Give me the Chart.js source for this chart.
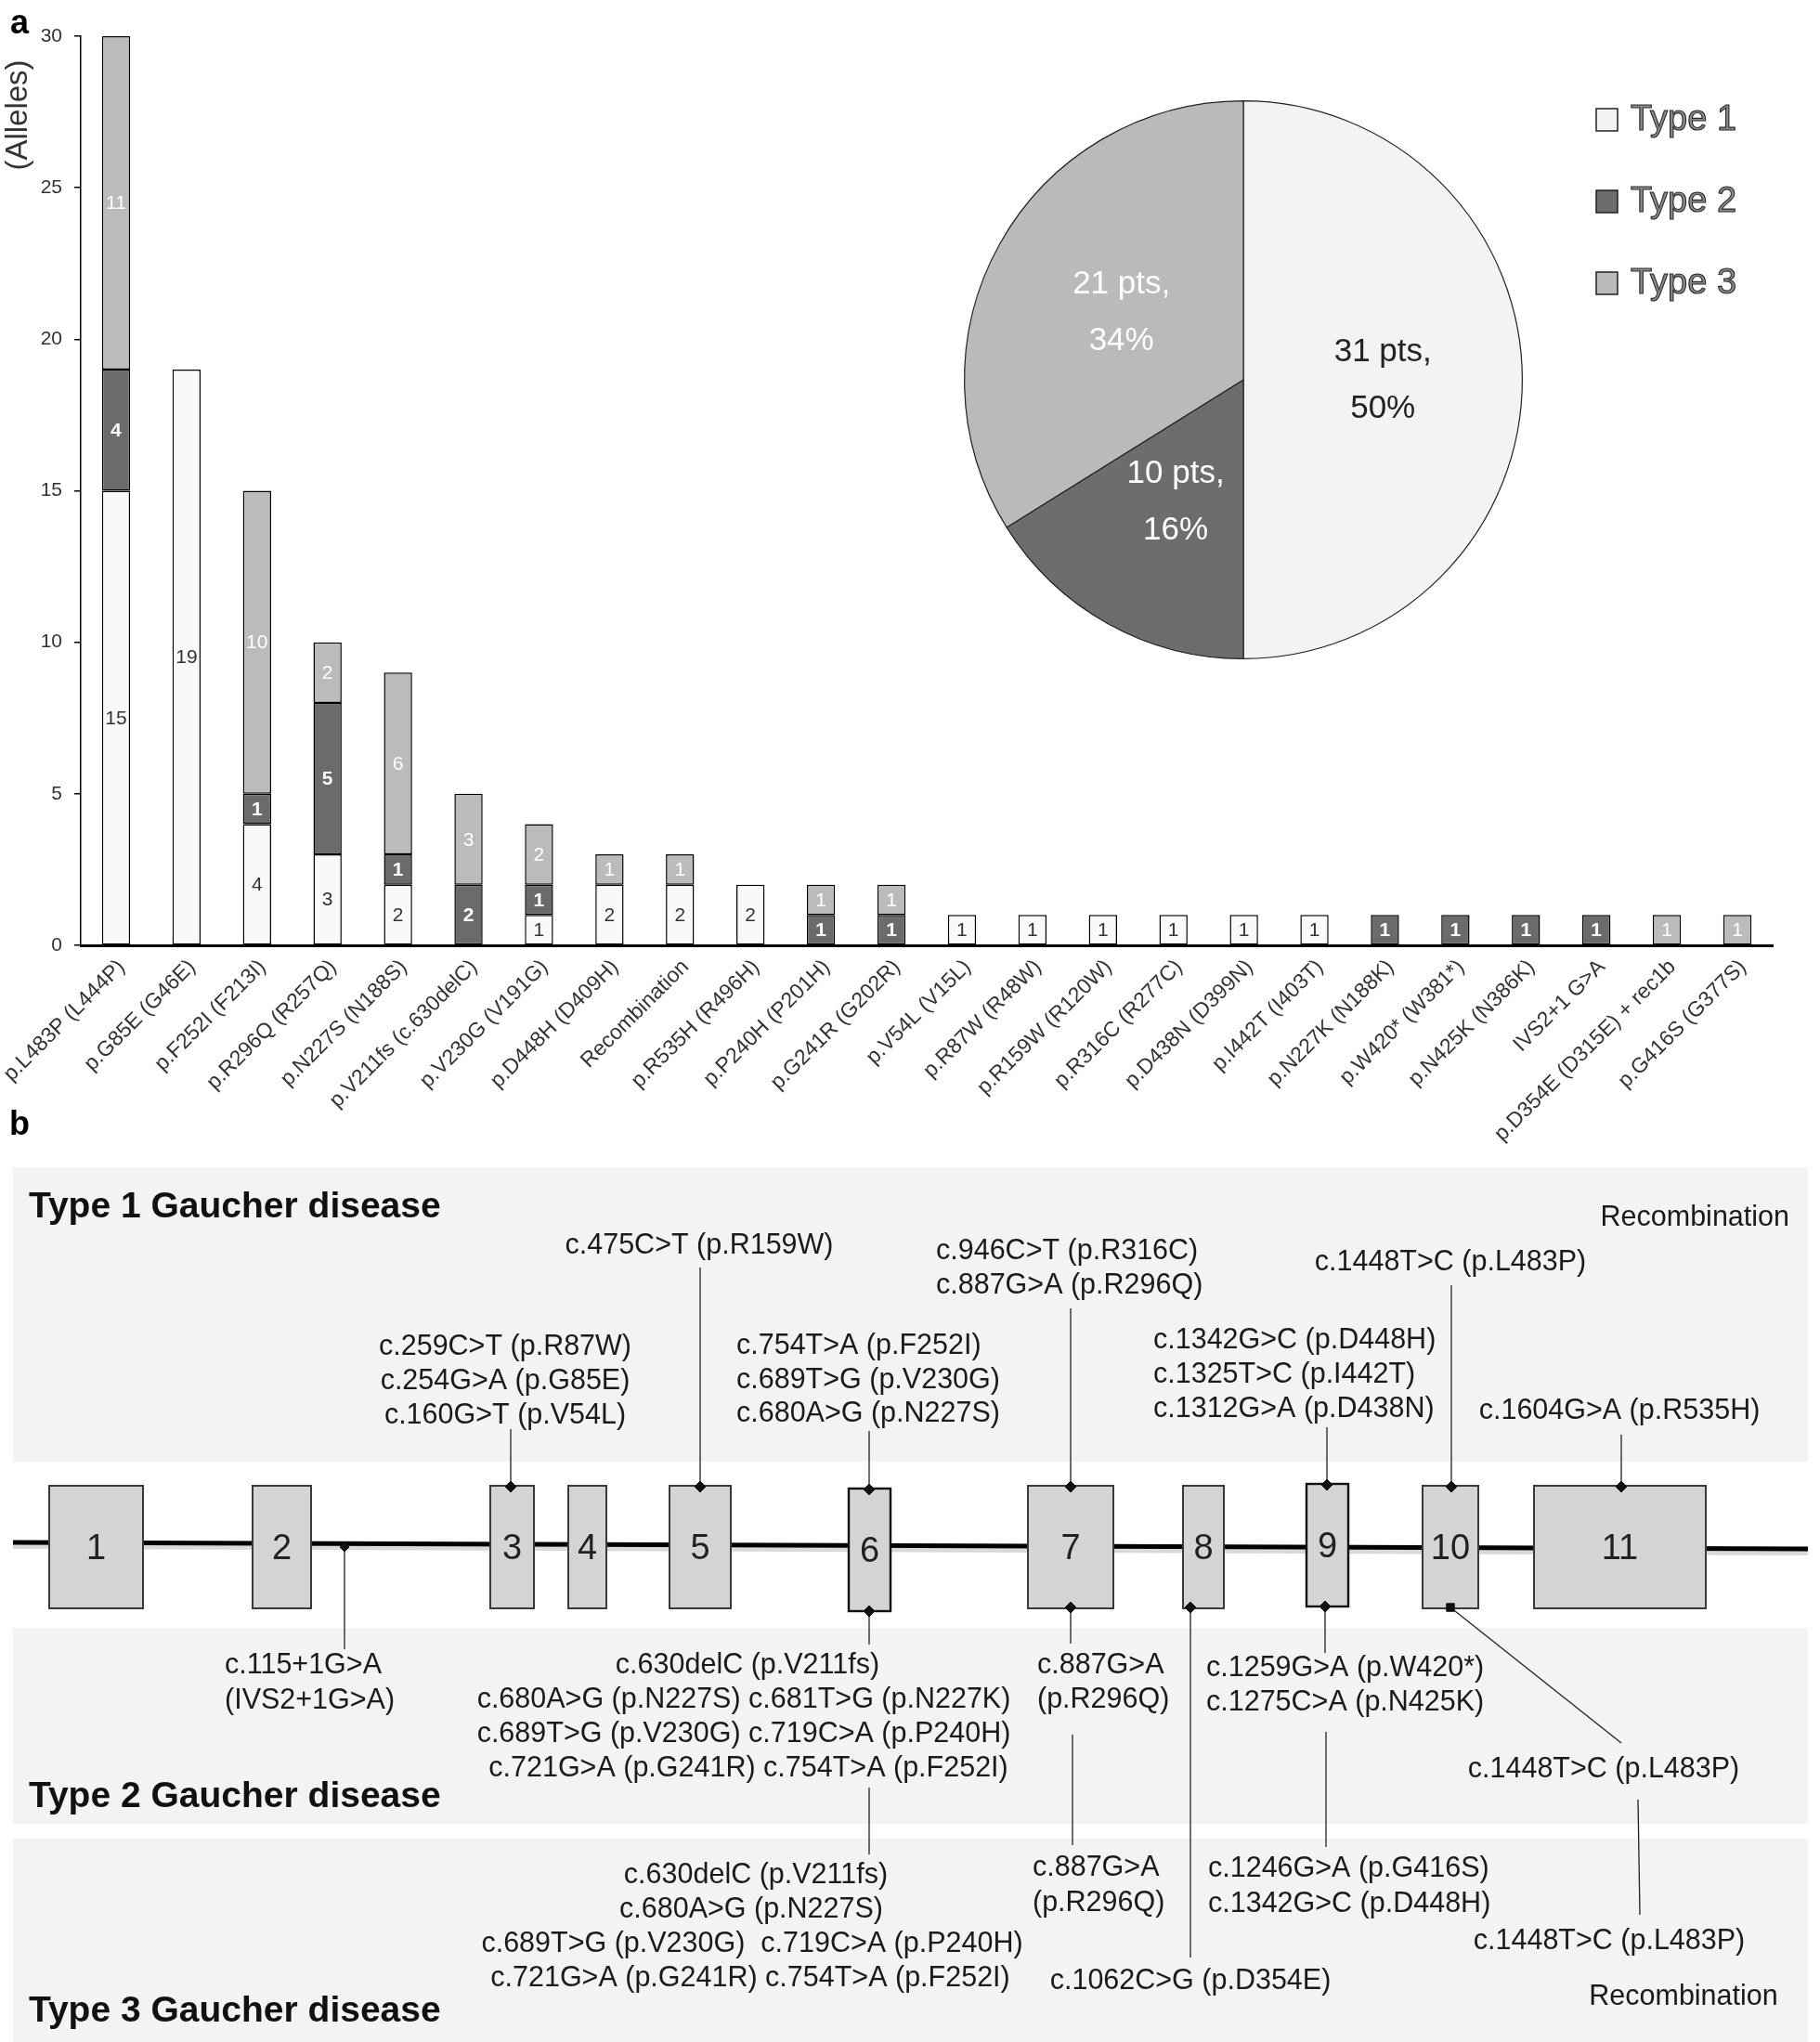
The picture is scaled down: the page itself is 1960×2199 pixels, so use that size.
<!DOCTYPE html>
<html>
<head>
<meta charset="utf-8">
<script src="https://cdn.jsdelivr.net/npm/chart.js@4.4.1/dist/chart.umd.min.js"></script>
<style>
html, body { margin: 0; padding: 0; background: #fff; }
#page { position: relative; width: 1960px; height: 2199px; overflow: hidden; background: #fff; }
canvas { position: absolute; }
#geneChart { left: 0; top: 1180px; }
#alleleChart { left: 0; top: 0; }
#typeChart { left: 1029px; top: 99px; }
</style>
</head>
<body>
<div id="page">
  <canvas id="geneChart" width="1960" height="1019"></canvas>
  <canvas id="alleleChart" width="1960" height="1250"></canvas>
  <canvas id="typeChart" width="620" height="620"></canvas>
</div>
<script>
const FONT = '"Liberation Sans", Arial, Helvetica, sans-serif';
Chart.defaults.font.family = FONT;

// panel a - alleles per mutation, split by Gaucher type
const mutations = [
    'p.L483P (L444P)', 'p.G85E (G46E)', 'p.F252I (F213I)', 'p.R296Q (R257Q)',
    'p.N227S (N188S)', 'p.V211fs (c.630delC)', 'p.V230G (V191G)', 'p.D448H (D409H)',
    'Recombination', 'p.R535H (R496H)', 'p.P240H (P201H)', 'p.G241R (G202R)',
    'p.V54L (V15L)', 'p.R87W (R48W)', 'p.R159W (R120W)', 'p.R316C (R277C)',
    'p.D438N (D399N)', 'p.I442T (I403T)', 'p.N227K (N188K)', 'p.W420* (W381*)',
    'p.N425K (N386K)', 'IVS2+1 G>A', 'p.D354E (D315E) + rec1b', 'p.G416S (G377S)'
];
const type1Alleles = [15, 19, 4, 3, 2, 0, 1, 2, 2, 2, 0, 0, 1, 1, 1, 1, 1, 1, 0, 0, 0, 0, 0, 0];
const type2Alleles = [4, 0, 1, 5, 1, 2, 1, 0, 0, 0, 1, 1, 0, 0, 0, 0, 0, 0, 1, 1, 1, 1, 0, 0];
const type3Alleles = [11, 0, 10, 2, 6, 3, 2, 1, 1, 0, 1, 1, 0, 0, 0, 0, 0, 0, 0, 0, 0, 0, 1, 1];
const yMax = 30;
const yStep = 5;

// pie - patients per type
const gaucherTypes = ['Type 1', 'Type 2', 'Type 3'];
const patientCounts = [31, 10, 21];

const barColors = ['#f9f9f9', '#6b6b6b', '#bbbbbb'];
const pieColors = ['#f3f3f3', '#6d6d6d', '#bababa'];
const numberColors = ['#333333', '#ffffff', '#ffffff'];
const pieTextColors = ['#222222', '#ffffff', '#ffffff'];

// panel b - GBA gene schematic (diagram units = page pixels)
const exonNumbers = ['1', '2', '3', '4', '5', '6', '7', '8', '9', '10', '11'];
const exonStart = [53, 272, 528, 612, 721, 914, 1107, 1274, 1407, 1532, 1652];
const exonEnd = [154, 335, 575, 653, 787, 959, 1199, 1318, 1452, 1592, 1837];
const exonTop = [1600, 1600, 1600, 1600, 1600, 1603, 1600, 1600, 1598, 1600, 1600];
const exonBottom = [1732, 1732, 1732, 1732, 1732, 1735, 1732, 1732, 1730, 1732, 1732];
const geneLineX = [14, 1947];
const geneLineY = [1661, 1668];

// connectors: [x1, y1, x2, y2, marker style, marker at point index]
const connectors = [
    [550, 1539, 550, 1601, 'rectRot', 1],
    [754, 1365, 754, 1601, 'rectRot', 1],
    [936, 1541, 936, 1604, 'rectRot', 1],
    [1153, 1409, 1153, 1601, 'rectRot', 1],
    [1429, 1537, 1429, 1599, 'rectRot', 1],
    [1563, 1384, 1563, 1601, 'rectRot', 1],
    [1746, 1545, 1746, 1601, 'rectRot', 1],
    [371, 1666, 371, 1776, 'rectRot', 0],
    [936, 1735, 936, 1771, 'rectRot', 0],
    [1153, 1731, 1153, 1770, 'rectRot', 0],
    [1427, 1730, 1427, 1780, 'rectRot', 0],
    [1562, 1731, 1746, 1877, 'rect', 0],
    [1282, 1731, 1282, 2108, 'rectRot', 0],
    [936, 1925, 936, 1997, null, 0],
    [1155, 1868, 1155, 1987, null, 0],
    [1428, 1865, 1428, 1989, null, 0],
    [1764, 1938, 1766, 2062, null, 0]
];

const bandTop = [1257, 1753, 1980];
const bandBottom = [1574, 1964, 2199];
const bandTitles = ['Type 1 Gaucher disease', 'Type 2 Gaucher disease', 'Type 3 Gaucher disease'];
const titleBaseline = [1311, 1946, 2177];

// [text, x, y, align]
const notes = [
    ['Recombination', 1927, 1312, 'right'],
    ['c.475C>T (p.R159W)', 753, 1342, 'center'],
    ['c.946C>T (p.R316C)', 1008, 1348, 'left'],
    ['c.887G>A (p.R296Q)', 1008, 1385, 'left'],
    ['c.1448T>C (p.L483P)', 1562, 1360, 'center'],
    ['c.259C>T (p.R87W)', 544, 1451, 'center'],
    ['c.254G>A (p.G85E)', 544, 1488, 'center'],
    ['c.160G>T (p.V54L)', 544, 1525, 'center'],
    ['c.754T>A (p.F252I)', 793, 1450, 'left'],
    ['c.689T>G (p.V230G)', 793, 1487, 'left'],
    ['c.680A>G (p.N227S)', 793, 1523, 'left'],
    ['c.1342G>C (p.D448H)', 1242, 1444, 'left'],
    ['c.1325T>C (p.I442T)', 1242, 1481, 'left'],
    ['c.1312G>A (p.D438N)', 1242, 1518, 'left'],
    ['c.1604G>A (p.R535H)', 1744, 1520, 'center'],

    ['c.115+1G>A', 242, 1794, 'left'],
    ['(IVS2+1G>A)', 242, 1832, 'left'],
    ['c.630delC (p.V211fs)', 805, 1794, 'center'],
    ['c.680A>G (p.N227S) c.681T>G (p.N227K)', 801, 1831, 'center'],
    ['c.689T>G (p.V230G) c.719C>A (p.P240H)', 801, 1868, 'center'],
    ['c.721G>A (p.G241R) c.754T>A (p.F252I)', 806, 1905, 'center'],
    ['c.887G>A', 1117, 1794, 'left'],
    ['(p.R296Q)', 1117, 1831, 'left'],
    ['c.1259G>A (p.W420*)', 1299, 1797, 'left'],
    ['c.1275C>A (p.N425K)', 1299, 1834, 'left'],
    ['c.1448T>C (p.L483P)', 1727, 1906, 'center'],

    ['c.630delC (p.V211fs)', 814, 2020, 'center'],
    ['c.680A>G (p.N227S)', 809, 2057, 'center'],
    ['c.689T>G (p.V230G)  c.719C>A (p.P240H)', 810, 2094, 'center'],
    ['c.721G>A (p.G241R) c.754T>A (p.F252I)', 808, 2131, 'center'],
    ['c.887G>A', 1112, 2012, 'left'],
    ['(p.R296Q)', 1112, 2050, 'left'],
    ['c.1246G>A (p.G416S)', 1301, 2013, 'left'],
    ['c.1342G>C (p.D448H)', 1301, 2051, 'left'],
    ['c.1448T>C (p.L483P)', 1733, 2091, 'center'],
    ['c.1062C>G (p.D354E)', 1282, 2134, 'center'],
    ['Recombination', 1813, 2151, 'center']
];

// ---------- panel a: stacked bars ----------
const alleleSeries = [type1Alleles, type2Alleles, type3Alleles];

const segmentLabels = {
    id: 'segmentLabels',
    afterDatasetsDraw(chart) {
        const ctx = chart.ctx;
        chart.data.datasets.forEach((ds, i) => {
            const meta = chart.getDatasetMeta(i);
            meta.data.forEach((bar, j) => {
                const v = ds.data[j];
                if (!v) return;
                ctx.save();
                ctx.font = (i === 1 ? 'bold ' : '') + '21px ' + FONT;
                ctx.fillStyle = numberColors[i];
                ctx.textAlign = 'center';
                ctx.textBaseline = 'middle';
                ctx.fillText(String(v), bar.x, (bar.y + bar.base) / 2 + 1);
                ctx.restore();
            });
        });
    }
};

const panelADecor = {
    id: 'panelADecor',
    afterDraw(chart) {
        const ctx = chart.ctx;
        ctx.save();
        // panel letter
        ctx.font = 'bold 36px ' + FONT;
        ctx.fillStyle = '#000';
        ctx.textAlign = 'left';
        ctx.textBaseline = 'alphabetic';
        ctx.fillText('a', 11, 36);

        // axis title, sits at the top of the axis
        ctx.translate(20, 124);
        ctx.rotate(-Math.PI / 2);
        ctx.font = '33px ' + FONT;
        ctx.fillStyle = '#333';
        ctx.textAlign = 'center';
        ctx.textBaseline = 'middle';
        ctx.fillText('(Alleles)', 0, 0);
        ctx.restore();

        // legend for the pie
        ctx.save();
        gaucherTypes.forEach((name, i) => {
            const cy = 129 + i * 88;
            ctx.fillStyle = pieColors[i];
            ctx.strokeStyle = '#222';
            ctx.lineWidth = 1.5;
            ctx.fillRect(1719, cy - 12, 23, 24);
            ctx.strokeRect(1719, cy - 12, 23, 24);
            ctx.font = '38px ' + FONT;
            ctx.textAlign = 'left';
            ctx.textBaseline = 'middle';
            ctx.fillStyle = '#8a8a8a';
            ctx.fillText(name, 1756, cy + 1);
            ctx.strokeStyle = '#2a2a2a';
            ctx.lineWidth = 1.1;
            ctx.strokeText(name, 1756, cy + 1);
        });
        ctx.restore();
    }
};

new Chart(document.getElementById('alleleChart'), {
    type: 'bar',
    data: {
        labels: mutations,
        datasets: alleleSeries.map((vals, i) => ({
            label: gaucherTypes[i],
            data: vals.map(v => v || null),
            backgroundColor: barColors[i],
            borderColor: '#000',
            borderWidth: 1.5,
            borderSkipped: false,
            barPercentage: 0.4,
            categoryPercentage: 1
        }))
    },
    options: {
        responsive: false,
        animation: false,
        devicePixelRatio: 1,
        layout: { padding: { top: 39, right: 51, left: 0, bottom: 0 } },
        plugins: { legend: { display: false }, tooltip: { enabled: false } },
        scales: {
            x: {
                stacked: true,
                grid: { display: false, drawTicks: false },
                border: { display: true, color: '#000', width: 3 },
                ticks: {
                    autoSkip: false, minRotation: 45, maxRotation: 45,
                    color: '#333', font: { size: 23 }, padding: 10, labelOffset: 6
                },
                afterFit(s) { s.height = 232; s.paddingLeft = 0; s.paddingRight = 0; }
            },
            y: {
                stacked: true,
                min: 0,
                max: yMax,
                ticks: { stepSize: yStep, color: '#333', font: { size: 21 }, padding: 13 },
                grid: { display: true, drawOnChartArea: false, drawTicks: true, tickLength: 7, color: '#000', lineWidth: 1.5 },
                border: { display: true, color: '#000', width: 1.5 },
                afterFit(s) { s.width = 87; s.paddingTop = 0; s.paddingBottom = 0; }
            }
        }
    },
    plugins: [segmentLabels, panelADecor]
});

// ---------- panel a inset: pie ----------
const total = patientCounts.reduce((a, b) => a + b, 0);

const pieLabels = {
    id: 'pieLabels',
    afterDatasetsDraw(chart) {
        const ctx = chart.ctx;
        const meta = chart.getDatasetMeta(0);
        meta.data.forEach((arc, i) => {
            const p = arc.tooltipPosition();
            const n = patientCounts[i];
            ctx.save();
            ctx.font = '35px ' + FONT;
            ctx.fillStyle = pieTextColors[i];
            ctx.textAlign = 'center';
            ctx.textBaseline = 'middle';
            ctx.fillText(n + ' pts,', p.x, p.y - 30);
            ctx.fillText(Math.round(n / total * 100) + '%', p.x, p.y + 31);
            ctx.restore();
        });
    }
};

new Chart(document.getElementById('typeChart'), {
    type: 'pie',
    data: {
        labels: gaucherTypes,
        datasets: [{
            data: patientCounts,
            backgroundColor: pieColors,
            borderColor: '#222',
            borderWidth: 1.2
        }]
    },
    options: {
        responsive: false,
        animation: false,
        devicePixelRatio: 1,
        layout: { padding: 9 },
        plugins: { legend: { display: false }, tooltip: { enabled: false } }
    },
    plugins: [pieLabels]
});

// ---------- panel b: gene schematic ----------
const geneDatasets = [
    {
        data: [{ x: geneLineX[0], y: geneLineY[0] + 4 }, { x: geneLineX[1], y: geneLineY[1] + 4 }],
        showLine: true, borderColor: 'rgba(0,0,0,0.15)', borderWidth: 6, pointRadius: 0, order: 3
    },
    {
        data: [{ x: geneLineX[0], y: geneLineY[0] }, { x: geneLineX[1], y: geneLineY[1] }],
        showLine: true, borderColor: '#000', borderWidth: 5, pointRadius: 0, order: 2
    }
];
connectors.forEach(c => {
    const radius = [0, 0];
    if (c[4]) radius[c[5]] = c[4] === 'rect' ? 6 : (c[0] === 371 ? 5 : 6);
    geneDatasets.push({
        data: [{ x: c[0], y: c[1] }, { x: c[2], y: c[3] }],
        showLine: true,
        borderColor: '#222',
        borderWidth: 1.3,
        pointRadius: radius,
        pointStyle: c[4] || 'circle',
        pointBackgroundColor: '#111',
        pointBorderColor: '#111',
        pointBorderWidth: 1,
        order: 0
    });
});

const geneDecor = {
    id: 'geneDecor',
    beforeDatasetsDraw(chart) {
        const ctx = chart.ctx;
        const xs = chart.scales.x, ys = chart.scales.y;
        ctx.save();
        ctx.fillStyle = '#f3f3f3';
        bandTop.forEach((t, i) => {
            const x0 = xs.getPixelForValue(14), x1 = xs.getPixelForValue(1947);
            const y0 = ys.getPixelForValue(t), y1 = ys.getPixelForValue(bandBottom[i]);
            ctx.fillRect(x0, y0, x1 - x0, y1 - y0);
        });
        ctx.font = 'bold 36px ' + FONT;
        ctx.fillStyle = '#000';
        ctx.textBaseline = 'alphabetic';
        ctx.fillText('b', xs.getPixelForValue(10), ys.getPixelForValue(1222));
        ctx.restore();
    },
    afterDatasetDraw(chart, args) {
        if (args.index !== 1) return;
        const ctx = chart.ctx;
        const xs = chart.scales.x, ys = chart.scales.y;
        ctx.save();
        exonNumbers.forEach((num, i) => {
            const x0 = xs.getPixelForValue(exonStart[i]), x1 = xs.getPixelForValue(exonEnd[i]);
            const y0 = ys.getPixelForValue(exonTop[i]), y1 = ys.getPixelForValue(exonBottom[i]);
            const bold = num === '6' || num === '9';
            ctx.fillStyle = '#d4d4d4';
            ctx.fillRect(x0, y0, x1 - x0, y1 - y0);
            ctx.strokeStyle = bold ? '#111' : '#3a3a3a';
            ctx.lineWidth = bold ? 2.4 : 2;
            ctx.strokeRect(x0, y0, x1 - x0, y1 - y0);
        });
        ctx.restore();
    },
    afterDatasetsDraw(chart) {
        const ctx = chart.ctx;
        const xs = chart.scales.x, ys = chart.scales.y;
        ctx.save();
        ctx.fillStyle = '#222';
        ctx.font = '38px ' + FONT;
        ctx.textAlign = 'center';
        ctx.textBaseline = 'middle';
        exonNumbers.forEach((num, i) => {
            const cx = xs.getPixelForValue((exonStart[i] + exonEnd[i]) / 2);
            const cy = ys.getPixelForValue((exonTop[i] + exonBottom[i]) / 2 + 3);
            ctx.fillText(num, cx, cy);
        });

        ctx.fillStyle = '#1a1a1a';
        ctx.font = '30.5px ' + FONT;
        notes.forEach(n => {
            ctx.textAlign = n[3];
            ctx.fillText(n[0], xs.getPixelForValue(n[1]), ys.getPixelForValue(n[2]));
        });

        ctx.fillStyle = '#111';
        ctx.font = 'bold 39px ' + FONT;
        ctx.textAlign = 'left';
        ctx.textBaseline = 'alphabetic';
        bandTitles.forEach((t, i) => {
            ctx.fillText(t, xs.getPixelForValue(31), ys.getPixelForValue(titleBaseline[i]));
        });
        ctx.restore();
    }
};

new Chart(document.getElementById('geneChart'), {
    type: 'scatter',
    data: { datasets: geneDatasets },
    options: {
        responsive: false,
        animation: false,
        devicePixelRatio: 1,
        layout: { padding: 0, autoPadding: false },
        plugins: { legend: { display: false }, tooltip: { enabled: false } },
        scales: {
            x: { type: 'linear', min: 0, max: 1960, display: false },
            y: { type: 'linear', min: 1180, max: 2199, reverse: true, display: false }
        }
    },
    plugins: [geneDecor]
});
</script>
</body>
</html>
